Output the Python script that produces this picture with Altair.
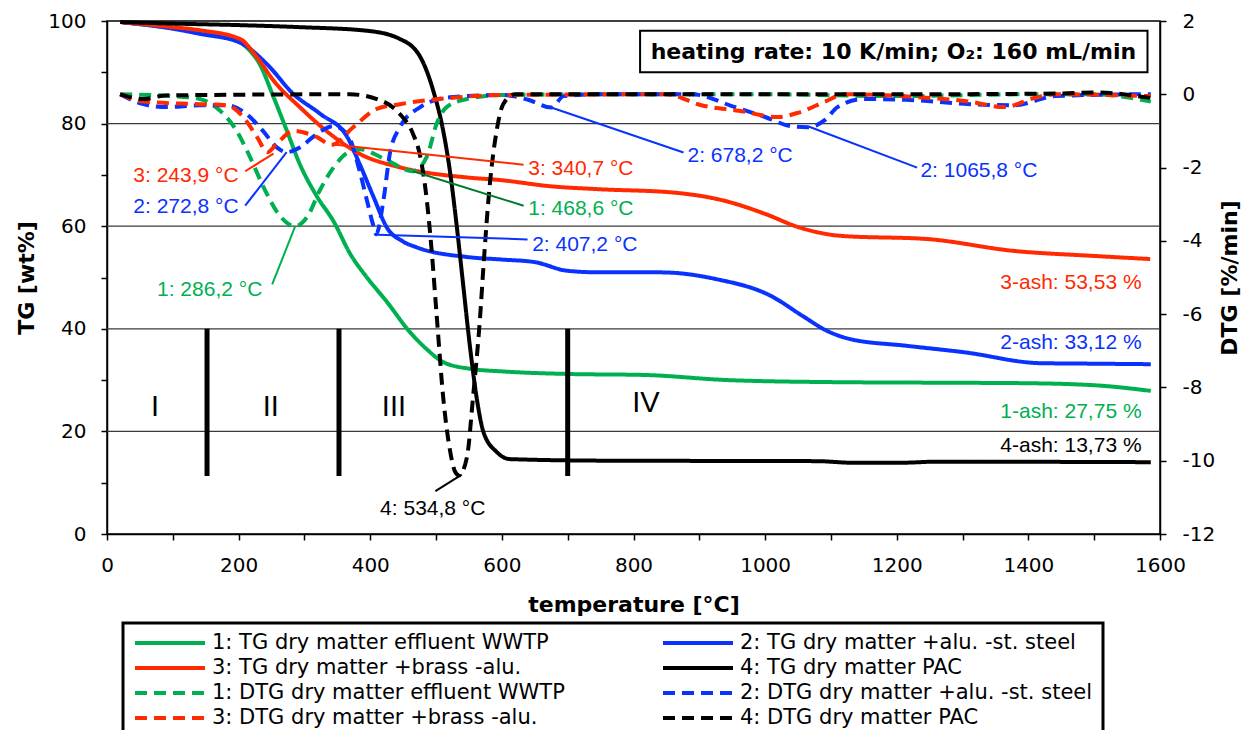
import altair as alt
import pandas as pd

# ---------------- series ----------------
series_names = [
    "1: TG dry matter effluent WWTP",
    "2: TG dry matter +alu. -st. steel",
    "3: TG dry matter +brass -alu.",
    "4: TG dry matter PAC",
    "1: DTG dry matter effluent WWTP",
    "2: DTG dry matter +alu. -st. steel",
    "3: DTG dry matter +brass -alu.",
    "4: DTG dry matter PAC",
]
GREEN, BLUE, RED, BLACK = "#00B050", "#0A32FF", "#FF2A00", "#000000"
series_colors = [GREEN, BLUE, RED, BLACK, GREEN, BLUE, RED, BLACK]
series_dash = [[1, 0], [1, 0], [1, 0], [1, 0], [12, 7], [12, 7], [12, 7], [12, 7]]
# legend fills column by column: left column first, then right column
legend_order = [0, 2, 4, 6, 1, 3, 5, 7]

# TG curves (temperature, wt%)
tg1_t = [20, 100, 150, 200, 215, 232, 253, 273, 293, 319, 344, 370, 395, 425, 460, 486, 511, 552, 600, 699, 817, 944, 1106, 1250, 1393, 1500, 1586]
tg1_v = [99.8, 98.6, 97.6, 96.0, 94.5, 91.6, 85.2, 78.7, 72.1, 65.8, 61.0, 54.5, 50.0, 45.3, 39.4, 36.0, 33.5, 32.2, 31.7, 31.2, 31.0, 30.0, 29.6, 29.5, 29.4, 29.0, 27.9]

tg2_t = [20, 100, 141, 202, 243, 283, 324, 365, 384, 405, 425, 450, 470, 547, 600, 650, 700, 750, 842, 925, 1009, 1057, 1094, 1129, 1214, 1304, 1418, 1500, 1586]
tg2_v = [99.8, 98.5, 97.5, 95.8, 91.6, 85.8, 81.9, 77.4, 72.1, 65.7, 59.8, 57.0, 55.9, 54.0, 53.5, 53.0, 51.3, 51.0, 51.0, 49.7, 46.4, 42.5, 39.6, 38.0, 36.7, 35.4, 33.3, 33.2, 33.1]

tg3_t = [20, 100, 141, 202, 228, 253, 293, 344, 384, 445, 547, 597, 673, 749, 857, 940, 1000, 1051, 1117, 1246, 1377, 1500, 1585]
tg3_v = [99.8, 98.8, 98.2, 96.5, 92.9, 88.4, 83.2, 77.5, 74.1, 71.5, 69.5, 69.0, 67.8, 67.2, 66.6, 64.9, 62.4, 59.8, 58.1, 57.5, 55.2, 54.2, 53.6]

tg4_t = [20, 100, 200, 293, 395, 445, 476, 496, 511, 521, 531, 540, 552, 562, 572, 592, 612, 749, 1080, 1130, 1210, 1260, 1586]
tg4_v = [99.8, 99.5, 99.2, 98.8, 98.1, 96.5, 93.0, 86.3, 78.5, 70.8, 60.5, 50.0, 36.0, 26.3, 19.9, 16.0, 14.6, 14.3, 14.2, 13.9, 13.9, 14.1, 14.0]

# DTG curves (temperature, %/min)
dtg1_t = [20, 100, 141, 172, 197, 217, 237, 258, 286, 304, 324, 344, 365, 384, 420, 465, 486, 501, 516, 547, 600, 800, 1000, 1200, 1400, 1500, 1586]
dtg1_v = [0, -0.05, -0.13, -0.45, -1.0, -1.7, -2.5, -3.2, -3.6, -3.35, -2.6, -2.0, -1.6, -1.5, -1.75, -2.1, -1.7, -0.8, -0.35, -0.13, -0.02, 0, 0, -0.05, 0, 0, -0.2]

dtg2_t = [20, 55, 91, 141, 182, 212, 237, 258, 273, 293, 319, 344, 365, 384, 395, 405, 409, 420, 430, 445, 476, 521, 600, 640, 675, 694, 750, 889, 954, 1000, 1039, 1065, 1091, 1110, 1149, 1214, 1311, 1377, 1442, 1571, 1586]
dtg2_v = [0, -0.27, -0.35, -0.3, -0.3, -0.54, -1.0, -1.45, -1.58, -1.45, -1.08, -0.87, -1.08, -2.1, -2.9, -3.6, -3.82, -2.9, -1.6, -0.9, -0.35, -0.08, -0.02, -0.15, -0.36, -0.05, 0, 0, -0.35, -0.62, -0.87, -0.9, -0.7, -0.35, -0.13, -0.15, -0.27, -0.3, -0.05, 0, 0]

dtg3_t = [20, 55, 141, 182, 207, 228, 244, 258, 283, 319, 341, 374, 410, 445, 521, 600, 850, 903, 960, 1019, 1051, 1091, 1120, 1250, 1311, 1363, 1409, 1440, 1586]
dtg3_v = [0, -0.2, -0.27, -0.3, -0.62, -1.17, -1.58, -1.35, -1.0, -1.17, -1.38, -0.9, -0.4, -0.27, -0.1, -0.02, 0, -0.3, -0.45, -0.62, -0.5, -0.2, 0, -0.1, -0.2, -0.35, -0.1, 0, -0.05]

dtg4_t = [20, 55, 90, 369, 420, 445, 465, 476, 486, 493, 501, 511, 521, 529, 535, 547, 556, 567, 572, 582, 592, 602, 620, 800, 1200, 1450, 1500, 1586]
dtg4_v = [0, -0.13, -0.03, 0, -0.2, -0.54, -1.08, -1.7, -2.9, -4.2, -6.05, -8.3, -9.7, -10.3, -10.4, -9.9, -8.3, -6.05, -4.7, -2.4, -1.0, -0.27, 0, 0, 0, 0.02, 0.05, -0.1]

# peak annotations (DTG axis units)
ann_text = ["3: 243,9 °C", "2: 272,8 °C", "1: 286,2 °C", "3: 340,7 °C", "1: 468,6 °C",
            "2: 407,2 °C", "2: 678,2 °C", "2: 1065,8 °C", "4: 534,8 °C"]
ann_color = [RED, BLUE, GREEN, RED, GREEN, BLUE, BLUE, BLUE, BLACK]
ann_line_color = [RED, BLUE, GREEN, RED, "#007A2E", BLUE, BLUE, BLUE, BLACK]
ann_tx = [40, 40, 76, 640, 640, 646, 882, 1236, 415]
ann_ty = [-2.24, -3.07, -5.33, -2.05, -3.14, -4.10, -1.69, -2.10, -11.33]
lead_x1 = [210, 210, 251, 633, 633, 639, 876, 1231, 499]
lead_y1 = [-2.10, -3.04, -5.19, -1.92, -3.04, -3.96, -1.59, -2.00, -10.83]
lead_x2 = [253, 273, 286, 344, 465, 411, 675, 1066, 539]
lead_y2 = [-1.62, -1.58, -3.60, -1.37, -2.10, -3.83, -0.36, -0.88, -10.38]

# ash labels (TG axis units)
ash_text = ["3-ash: 53,53 %", "2-ash: 33,12 %", "1-ash: 27,75 %", "4-ash: 13,73 %"]
ash_color = [RED, BLUE, GREEN, BLACK]
ash_t = [1572, 1572, 1572, 1572]
ash_tg = [49.0, 37.3, 23.7, 17.1]

# phase separators and labels
phase_bar_t = [152, 352.5, 700]
phase_bar_lo = [11.3, 11.3, 11.3]
phase_bar_hi = [40, 40, 40]
phase_text = ["I", "II", "III", "IV"]
phase_t = [73, 249, 436, 819]
phase_tg = [24.8, 24.8, 24.8, 25.5]

# info box
box_t = [810, 1581]
box_tg = [98.1, 90.0]
box_label = "heating rate: 10 K/min; O₂: 160 mL/min"
box_label_t = 1195
box_label_tg = 94.0

grid_tg = [20, 40, 60, 80]

# ---------------- tables ----------------
tg_rows = []
for name, ts, vs in zip(series_names[:4], [tg1_t, tg2_t, tg3_t, tg4_t], [tg1_v, tg2_v, tg3_v, tg4_v]):
    tg_rows += [{"T": t, "v": v, "series": name} for t, v in zip(ts, vs)]
tg_df = pd.DataFrame(tg_rows)

dtg_rows = []
for name, ts, vs in zip(series_names[4:], [dtg1_t, dtg2_t, dtg3_t, dtg4_t], [dtg1_v, dtg2_v, dtg3_v, dtg4_v]):
    dtg_rows += [{"T": t, "v": v, "series": name} for t, v in zip(ts, vs)]
dtg_df = pd.DataFrame(dtg_rows)

ann_df = pd.DataFrame({"txt": ann_text, "c": ann_color, "lc": ann_line_color, "tx": ann_tx, "ty": ann_ty,
                       "x1": lead_x1, "y1": lead_y1, "x2": lead_x2, "y2": lead_y2})
ash_df = pd.DataFrame({"txt": ash_text, "c": ash_color, "t": ash_t, "v": ash_tg})
bar_df = pd.DataFrame({"t": phase_bar_t, "lo": phase_bar_lo, "hi": phase_bar_hi})
phase_df = pd.DataFrame({"txt": phase_text, "t": phase_t, "v": phase_tg})
box_df = pd.DataFrame({"t1": [box_t[0]], "t2": [box_t[1]], "v1": [box_tg[0]], "v2": [box_tg[1]]})
boxlab_df = pd.DataFrame({"txt": [box_label], "t": [box_label_t], "v": [box_label_tg]})
grid_df = pd.DataFrame({"g": grid_tg})

# ---------------- scales / axes ----------------
xscale = alt.Scale(domain=[0, 1600], nice=False, zero=False)
tgscale = alt.Scale(domain=[0, 100], nice=False)
dtgscale = alt.Scale(domain=[-12, 2], nice=False, zero=False)
color_scale = alt.Scale(domain=[series_names[i] for i in legend_order],
                        range=[series_colors[i] for i in legend_order])
dash_scale = alt.Scale(domain=[series_names[i] for i in legend_order],
                       range=[series_dash[i] for i in legend_order])

x_axis = alt.Axis(values=list(range(0, 1601, 100)),
                  labelExpr="datum.value % 200 == 0 ? '' + datum.value : ''",
                  title="temperature [°C]", grid=False, tickSize=6, labelPadding=15,
                  titlePadding=19, labelFlush=False)
y_tg_axis = alt.Axis(values=list(range(0, 101, 10)),
                     labelExpr="datum.value % 20 == 0 ? '' + datum.value : ''",
                     title="TG [wt%]", grid=False, tickSize=6, labelPadding=15, titlePadding=9)
y_dtg_axis = alt.Axis(orient="right", values=list(range(-12, 3, 2)),
                      labelExpr="'' + datum.value",
                      title="DTG [%/min]", grid=False, tickSize=6, labelPadding=16,
                      titlePadding=5, titleAngle=270, titleBaseline="top")

legend = alt.Legend(title=None, orient="none", legendX=16, legendY=602, columns=2,
                    symbolType="stroke", symbolSize=4900, symbolStrokeWidth=4,
                    labelFont="DejaVu Sans", labelFontSize=21, labelLimit=800,
                    clipHeight=20, rowPadding=4, columnPadding=96, labelOffset=5,
                    padding=10, strokeColor="black", labelColor="black")

X = lambda f: alt.X(f, scale=xscale, axis=x_axis)
YT = lambda f: alt.Y(f, scale=tgscale, axis=y_tg_axis)
YD = lambda f: alt.Y(f, scale=dtgscale, axis=y_dtg_axis)

# ---------------- TG layer ----------------
grid = alt.Chart(grid_df).mark_rule(color="#3a3a3a", strokeWidth=1.2).encode(y=YT("g:Q"))

tg_lines = alt.Chart(tg_df).mark_line(strokeWidth=4, interpolate="monotone").encode(
    x=X("T:Q"), y=YT("v:Q"),
    color=alt.Color("series:N", scale=color_scale, legend=legend),
    strokeDash=alt.StrokeDash("series:N", scale=dash_scale, legend=legend),
)

bars = alt.Chart(bar_df).mark_rule(color="black", strokeWidth=5).encode(
    x=X("t:Q"), y=YT("lo:Q"), y2="hi:Q")

phase_labels = alt.Chart(phase_df).mark_text(font="Liberation Sans", fontSize=29, color="black",
                                             align="center", baseline="middle").encode(
    x=X("t:Q"), y=YT("v:Q"), text="txt:N")

ash_labels = alt.Chart(ash_df).mark_text(font="Liberation Sans", fontSize=21,
                                         align="right", baseline="middle").encode(
    x=X("t:Q"), y=YT("v:Q"), text="txt:N", fill=alt.Fill("c:N", scale=None))

box = alt.Chart(box_df).mark_rect(fill="white", stroke="black", strokeWidth=2).encode(
    x=X("t1:Q"), x2="t2:Q", y=YT("v1:Q"), y2="v2:Q")

box_text = alt.Chart(boxlab_df).mark_text(font="DejaVu Sans", fontWeight="bold", fontSize=22,
                                          color="black", align="center", baseline="middle").encode(
    x=X("t:Q"), y=YT("v:Q"), text="txt:N")

layer_tg = alt.layer(grid, tg_lines, bars, phase_labels, ash_labels, box, box_text)

# ---------------- DTG layer ----------------
dtg_lines = alt.Chart(dtg_df).mark_line(strokeWidth=4, interpolate="monotone", strokeCap="butt").encode(
    x=X("T:Q"), y=YD("v:Q"),
    color=alt.Color("series:N", scale=color_scale, legend=legend),
    strokeDash=alt.StrokeDash("series:N", scale=dash_scale, legend=legend),
)

leaders = alt.Chart(ann_df).mark_rule(strokeWidth=2).encode(
    x=X("x1:Q"), x2="x2:Q", y=YD("y1:Q"), y2="y2:Q",
    stroke=alt.Stroke("lc:N", scale=None))

ann_labels = alt.Chart(ann_df).mark_text(font="Liberation Sans", fontSize=21,
                                         align="left", baseline="middle").encode(
    x=X("tx:Q"), y=YD("ty:Q"), text="txt:N", fill=alt.Fill("c:N", scale=None))

layer_dtg = alt.layer(dtg_lines, leaders, ann_labels)

chart = alt.layer(layer_tg, layer_dtg).resolve_scale(y="independent").properties(
    width=1053, height=513,
    padding={"left": 99, "top": 13, "right": 90, "bottom": 196},
    autosize=alt.AutoSizeParams(type="none"),
    background="white",
).configure_axis(
    domainColor="black", domainWidth=1.5, tickColor="black", tickWidth=1.5,
    labelColor="black", titleColor="black",
    labelFont="DejaVu Sans", labelFontSize=20,
    titleFont="DejaVu Sans", titleFontSize=22, titleFontWeight="bold",
).configure_view(stroke="black", strokeWidth=1.5).configure_legend(strokeWidth=3)

chart.save("out.html", embed_options={"renderer": "svg", "actions": False})
